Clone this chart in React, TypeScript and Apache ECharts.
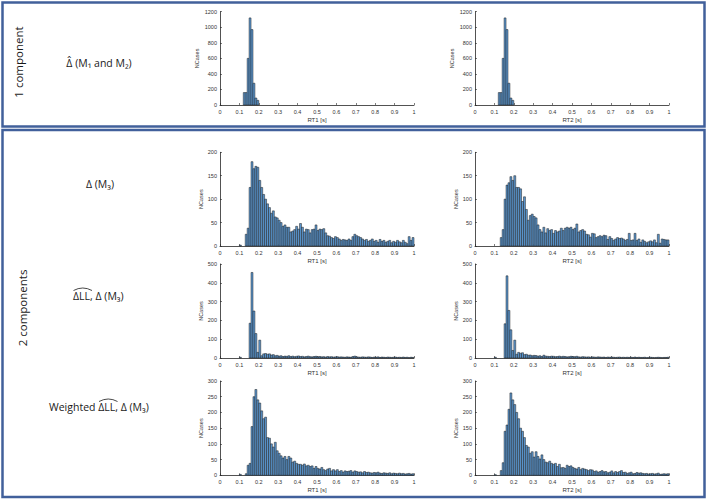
import React, { useEffect, useRef } from "react";
import * as echarts from "echarts";

// ---------- data (counts per 0.01 s bin) ----------
const binWidth = 0.01;
const xTicks = ["0", "0.1", "0.2", "0.3", "0.4", "0.5", "0.6", "0.7", "0.8", "0.9", "1"];

// Row 1: 1 component, bins start at 0.12
const row1Start = 0.12;
const rt1OneComp = [160, 160, 600, 1120, 970, 280, 90, 60];
const rt2OneComp = [160, 160, 600, 1120, 970, 280, 90, 60];

// Rows 2-4: bins start at 0.10
const tailStart = 0.1;
const rt1Delta = [
  2, 0, 0, 25, 38, 125, 180, 165, 170, 168,
  140, 125, 110, 100, 90, 82, 70, 75, 62, 60,
  55, 50, 42, 45, 40, 40, 30, 32, 35, 42,
  36, 48, 40, 30, 36, 35, 28, 35, 36, 45,
  33, 36, 35, 37, 28, 22, 21, 18, 16, 20,
  18, 15, 12, 14, 13, 12, 15, 12, 20, 25,
  22, 20, 18, 15, 12, 14, 10, 12, 15, 10,
  12, 8, 14, 10, 12, 8, 10, 12, 7, 10,
  8, 12, 9, 7, 12, 8, 5, 20, 12, 18,
];
const rt2Delta = [
  0, 0, 0, 18, 35, 100, 130, 135, 148, 140,
  150, 125, 125, 122, 95, 105, 78, 55, 65, 68,
  63, 60, 45, 35, 30, 40, 28, 37, 33, 35,
  27, 33, 30, 32, 38, 33, 38, 40, 38, 40,
  35, 38, 47, 30, 33, 35, 32, 25, 24, 19,
  27, 26, 18, 20, 22, 20, 23, 22, 14, 20,
  16, 12, 15, 18, 16, 17, 15, 12, 14, 27,
  12, 13, 27, 12, 15, 8, 13, 10, 7, 9,
  11, 9, 13, 7, 25, 6, 15, 14, 13, 13,
];
const rt1LL = [
  4, 0, 0, 0, 0, 185, 455, 250, 130, 30,
  95, 12, 22, 24, 20, 22, 16, 18, 12, 14,
  10, 12, 8, 10, 9, 12, 8, 10, 7, 9,
  11, 8, 9, 6, 8, 10, 7, 6, 8, 9,
  7, 8, 6, 7, 5, 8, 6, 7, 5, 6,
  7, 5, 6, 5, 4, 6, 5, 4, 8, 10,
  6, 5, 4, 6, 5, 4, 6, 5, 3, 5,
  4, 6, 3, 5, 4, 3, 5, 4, 3, 4,
  5, 3, 4, 3, 5, 3, 4, 2, 4, 3,
];
const rt2LL = [
  4, 0, 0, 0, 0, 182, 437, 253, 150, 40,
  95, 20, 30, 25, 28, 18, 20, 15, 16, 12,
  14, 13, 10, 12, 8, 15, 10, 9, 8, 10,
  9, 7, 8, 10, 7, 9, 8, 6, 7, 9,
  8, 7, 9, 6, 5, 7, 6, 5, 6, 4,
  6, 5, 4, 6, 5, 4, 5, 3, 5, 4,
  5, 4, 3, 4, 5, 3, 4, 3, 4, 3,
  4, 3, 5, 3, 4, 3, 3, 4, 2, 3,
  4, 3, 2, 3, 4, 3, 2, 3, 3, 4,
];
const rt1Weighted = [
  3, 0, 0, 5, 32, 38, 155, 250, 273, 240,
  230, 205, 180, 185, 120, 118, 100, 90, 105, 78,
  70, 62, 55, 60, 50, 60, 55, 42, 45, 38,
  35, 35, 32, 36, 30, 32, 28, 30, 22, 28,
  22, 20, 25, 18, 15, 20, 22, 14, 18, 14,
  18, 12, 15, 10, 14, 12, 13, 15, 10, 14,
  12, 10, 11, 8, 12, 9, 10, 8, 7, 9,
  8, 10, 7, 6, 8, 7, 6, 8, 5, 7,
  6, 5, 7, 5, 6, 4, 5, 6, 4, 5,
];
const rt2Weighted = [
  2, 0, 0, 15, 40, 140, 160, 210, 262, 240,
  225, 200, 180, 150, 140, 120, 95, 90, 70, 75,
  58, 75, 60, 52, 65, 50, 42, 40, 45, 38,
  35, 38, 28, 35, 24, 25, 22, 32, 28, 30,
  25, 22, 20, 25, 18, 22, 20, 18, 15, 18,
  17, 12, 14, 10, 12, 15, 11, 12, 8, 10,
  14, 8, 12, 9, 12, 15, 9, 10, 6, 8,
  10, 5, 6, 9, 7, 8, 6, 5, 6, 4,
  5, 6, 4, 5, 7, 3, 4, 5, 4, 5,
];

const yMaxes = [1200, 200, 500, 300];
const yIntervals = [200, 50, 100, 50];
const xNames = ["RT1 [s]", "RT2 [s]"];
const yName = "NCases";

const panelSeries: { start: number; counts: number[] }[][] = [
  [{ start: row1Start, counts: rt1OneComp }, { start: row1Start, counts: rt2OneComp }],
  [{ start: tailStart, counts: rt1Delta }, { start: tailStart, counts: rt2Delta }],
  [{ start: tailStart, counts: rt1LL }, { start: tailStart, counts: rt2LL }],
  [{ start: tailStart, counts: rt1Weighted }, { start: tailStart, counts: rt2Weighted }],
];

// ---------- layout ----------
const colLefts = [220, 475];
const gridWidth = 194;
const rowTops = [11.7, 152.3, 264, 381];
const rowHeights = [93.3, 93.7, 94, 94.3];

const BAR_FILL = "#5b97d0";
const BAR_EDGE = "#1c1c1c";
const AXIS_COLOR = "#262626";
const FRAME = "#41609b";
const LABEL_FONT = '"Open Sans", "Noto Sans", sans-serif';
const TICK_FONT = '"Liberation Sans", Arial, sans-serif';

function toBins(start: number, counts: number[]) {
  const out: number[][] = [];
  counts.forEach((c, i) => {
    if (c > 0) {
      const x0 = Math.round((start + i * binWidth) * 100) / 100;
      out.push([x0, Math.round((x0 + binWidth) * 100) / 100, c]);
    }
  });
  return out;
}

export default function App() {
  const ref = useRef<HTMLDivElement>(null);
  useEffect(() => {
    if (!ref.current) return;
    const chart = echarts.init(ref.current, undefined, { renderer: "svg" });
    const grids: any[] = [];
    const xAxes: any[] = [];
    const yAxes: any[] = [];
    const series: any[] = [];
    let idx = 0;
    for (let r = 0; r < 4; r++) {
      for (let c = 0; c < 2; c++) {
        grids.push({ left: colLefts[c], top: rowTops[r], width: gridWidth, height: rowHeights[r] });
        xAxes.push({
          type: "value",
          gridIndex: idx,
          min: 0,
          max: 1,
          interval: 0.1,
          name: xNames[c],
          nameLocation: "middle",
          nameGap: 12,
          nameTextStyle: { fontSize: 6, color: "#333", fontFamily: TICK_FONT },
          axisLine: { show: true, lineStyle: { color: AXIS_COLOR, width: 0.8 } },
          axisTick: { show: true, inside: true, length: 2, lineStyle: { color: AXIS_COLOR, width: 0.6 } },
          axisLabel: {
            fontSize: 5.5,
            color: "#333",
            margin: 4,
            fontFamily: TICK_FONT,
            formatter: (v: number) => xTicks[Math.round(v * 10)],
          },
          splitLine: { show: false },
        });
        yAxes.push({
          type: "value",
          gridIndex: idx,
          min: 0,
          max: yMaxes[r],
          interval: yIntervals[r],
          name: yName,
          nameLocation: "middle",
          nameGap: r === 0 ? 20 : 16,
          nameRotate: 90,
          nameTextStyle: { fontSize: 5.5, color: "#333", fontFamily: TICK_FONT },
          axisLine: { show: true, lineStyle: { color: AXIS_COLOR, width: 0.8 } },
          axisTick: { show: true, inside: true, length: 2, lineStyle: { color: AXIS_COLOR, width: 0.6 } },
          axisLabel: {
            fontSize: 5.5,
            color: "#333",
            margin: 3,
            fontFamily: TICK_FONT,
            formatter: (v: number) => String(Math.round(v)),
          },
          splitLine: { show: false },
        });
        const p = panelSeries[r][c];
        series.push({
          type: "custom",
          xAxisIndex: idx,
          yAxisIndex: idx,
          data: toBins(p.start, p.counts),
          encode: { x: [0, 1], y: 2 },
          renderItem: (params: any, api: any) => {
            const p0 = api.coord([api.value(0), 0]);
            const p1 = api.coord([api.value(1), api.value(2)]);
            return {
              type: "rect",
              shape: { x: p0[0], y: p1[1], width: p1[0] - p0[0], height: p0[1] - p1[1] },
              style: { fill: BAR_FILL, stroke: BAR_EDGE, lineWidth: 0.5 },
            };
          },
        });
        idx++;
      }
    }

    const textStyle = (text: string, size: number) => ({
      text,
      fontSize: size,
      fontFamily: LABEL_FONT,
      fill: "#1a1a1a",
      align: "center",
      verticalAlign: "middle",
      textAlign: "center",
      textVerticalAlign: "middle",
    });
    const leftText = (text: string, size: number) => ({
      text,
      fontSize: size,
      fontFamily: LABEL_FONT,
      fill: "#1a1a1a",
      align: "left",
      verticalAlign: "middle",
      textAlign: "left",
      textVerticalAlign: "middle",
    });

    const graphic: any[] = [
      { type: "rect", shape: { x: 2.5, y: 2.5, width: 702, height: 124 }, style: { fill: "none", stroke: FRAME, lineWidth: 2.5 } },
      { type: "rect", shape: { x: 2.5, y: 130, width: 702, height: 367 }, style: { fill: "none", stroke: FRAME, lineWidth: 2.5 } },
      { type: "text", x: 18, y: 62, rotation: Math.PI / 2, style: textStyle("1 component", 11.5) },
      { type: "text", x: 22, y: 308, rotation: Math.PI / 2, style: textStyle("2 components", 11.5) },
      { type: "text", x: 99, y: 63, style: textStyle("Δ\u0302 (M\u2081 and M\u2082)", 10.5) },
      { type: "text", x: 100, y: 184, style: textStyle("Δ (M\u2083)", 10.5) },
      { type: "text", x: 73, y: 296, style: leftText("ΔLL, Δ (M\u2083)", 10.5) },
      { type: "bezierCurve", shape: { x1: 73.5, y1: 290.5, x2: 92, y2: 290.5, cpx1: 82.75, cpy1: 285.5 }, style: { stroke: "#1a1a1a", lineWidth: 0.8, fill: "none" } },
      { type: "text", x: 49, y: 407, style: leftText("Weighted ΔLL, Δ (M\u2083)", 10.5) },
      { type: "bezierCurve", shape: { x1: 99, y1: 401.5, x2: 117.5, y2: 401.5, cpx1: 108.25, cpy1: 396.5 }, style: { stroke: "#1a1a1a", lineWidth: 0.8, fill: "none" } },
    ];

    chart.setOption({
      animation: false,
      backgroundColor: "#ffffff",
      grid: grids,
      xAxis: xAxes,
      yAxis: yAxes,
      series,
      graphic,
    });
    return () => chart.dispose();
  }, []);
  return (
    <div
      ref={ref}
      style={{ position: "absolute", left: 0, top: 0, width: 708, height: 501, background: "#fff" }}
    />
  );
}
